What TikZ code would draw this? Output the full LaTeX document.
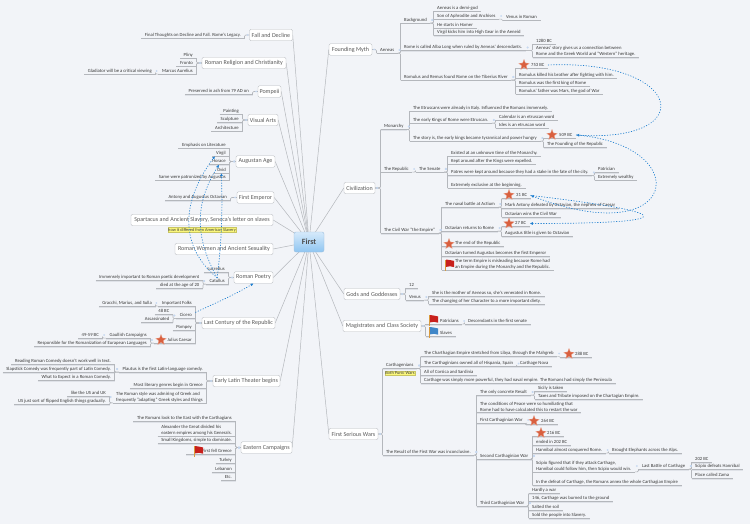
\documentclass[tikz,border=0pt]{standalone}
\usepackage{fontspec}
\setmainfont{Carlito}
\usetikzlibrary{shapes.geometric,arrows.meta}
\pgfdeclarelayer{links}
\pgfsetlayers{links,main}
\definecolor{bgc}{HTML}{F2F4F8}
\definecolor{linec}{HTML}{B4B7BC}
\definecolor{shadec}{HTML}{DFE2E8}
\definecolor{dotc}{HTML}{C6D8F0}
\definecolor{txtc}{HTML}{3A3A3A}
\definecolor{relc}{HTML}{1F7FD0}
\definecolor{notec}{HTML}{FBF77C}
\definecolor{starc}{HTML}{D9603F}
\definecolor{staredge}{HTML}{E9A48F}
\definecolor{roottop}{HTML}{D6EAFB}
\definecolor{rootbot}{HTML}{8FC5F1}
\definecolor{rootedge}{HTML}{9DBFDE}
\definecolor{flagred}{HTML}{C8201C}
\definecolor{flagblue}{HTML}{3F86C8}
\definecolor{polec}{HTML}{D99A3C}
\tikzset{
  x=1pt,y=-1pt,
  lnk/.style={draw=linec,line width=0.55pt,rounded corners=1.2pt},
  shd/.style={draw=shadec,line width=0.7pt},
  spoke/.style={draw=linec,line width=0.5pt},
  leaf/.style={font=\fontsize{4.7}{5.8}\selectfont,text=txtc,inner xsep=3.5pt,inner ysep=0.7pt,text height=3.4pt,text depth=1.1pt},
  mline/.style={align=left,text height={},text depth={}},
  topic/.style={draw=linec,fill=white,rounded corners=1.3pt,font=\fontsize{6.05}{7}\selectfont,text=black!65,inner xsep=1pt,inner ysep=0pt,minimum height=11.5pt},
  root/.style={draw=rootedge,top color=roottop,bottom color=rootbot,rounded corners=2pt,font=\bfseries\fontsize{8}{9}\selectfont,text=black!70,minimum width=30pt,minimum height=20pt,inner sep=0pt},
  note/.style={fill=notec,draw=notec!80!black,line width=0.2pt,font=\fontsize{4.4}{5}\selectfont,text=black!75,inner sep=0.6pt},
  starico/.style={star,star points=5,star point ratio=2.3,minimum size=11pt,inner sep=0pt,fill=starc,draw=staredge,line width=0.3pt},
  rel/.style={draw=relc,line width=0.7pt,dotted,line cap=round,-{Latex[length=3pt,width=3pt]}},
}
\newcommand{\ulin}[1]{\draw[shd] ([yshift=-0.7pt]#1.south west)--([yshift=-0.7pt]#1.south east);\draw[lnk] (#1.south west)--(#1.south east);}
\newcommand{\NR}[5][]{\node[leaf,anchor=west,xshift=-3.5pt,#1] (#2) at (#3,#4) {#5}; \ulin{#2}}
\newcommand{\NL}[5][]{\node[leaf,anchor=east,xshift=3.5pt,#1] (#2) at (#3,#4) {#5}; \ulin{#2}}
\newcommand{\TP}[5]{\node[topic,minimum width=#4pt] (#1) at (#2,#3) {#5};}
\newcommand{\kr}[3][south east]{\draw[lnk] (#2.#1) -| (#3.south west);\fill[dotc] ([xshift=1.8pt]#2.east) circle (1pt);}
\newcommand{\kl}[3][south west]{\draw[lnk] (#2.#1) -| (#3.south east);\fill[dotc] ([xshift=-1.8pt]#2.west) circle (1pt);}
\newcommand{\spk}[2]{\draw[spoke] (first.center)--(#1.#2);}
\newcommand{\staric}[3]{\node[starico] (#1) at (#2,#3) {};}
\newcommand{\flagic}[3]{\begin{scope}[shift={(#1,#2)}]
  \fill[polec] (-4.4,-5) rectangle (-3,6);
  \fill[#3] (-3,-5) -- (1,-4.4) -- (5,-3.6) -- (5,2.6) -- (1,1.8) -- (-3,2.4) -- cycle;
\end{scope}}
\begin{document}
\begin{tikzpicture}
\useasboundingbox (0,0) rectangle (750,524);
\begin{pgfonlayer}{links}\fill[bgc] (0,0) rectangle (750,524);\end{pgfonlayer}
\node[root] (first) at (309,242) {First};
% ---- left topics
\TP{fall}{271}{35}{43}{Fall and Decline}
\TP{relig}{244}{63}{84}{Roman Religion and Christianity}
\TP{pomp}{269.5}{91.5}{23}{Pompeii}
\TP{visual}{263}{120}{30}{Visual Arts}
\TP{aug}{255.5}{161.5}{39}{Augustan Age}
\TP{emp}{255.5}{197.5}{37}{First Emperor}
\TP{spart}{202}{220}{142}{Spartacus and Ancient Slavery, Seneca's letter on slaves}
\TP{women}{224}{249}{98}{Roman Women and Ancient Sexuality}
\TP{poet}{253.5}{277.5}{39}{Roman Poetry}
\TP{cent}{238.5}{323}{73}{Last Century of the Republic}
\TP{latin}{246.5}{381}{67}{Early Latin Theater begins}
\TP{east}{266.5}{447.5}{51}{Eastern Campaigns}
% ---- right topics
\TP{myth}{350.5}{49.5}{43}{Founding Myth}
\TP{civ}{359.5}{188}{31}{Civilization}
\TP{gods}{372}{294}{56}{Gods and Goddesses}
\TP{magi}{382}{326}{78}{Magistrates and Class Society}
\TP{wars}{353.5}{434}{49}{First Serious Wars}
\begin{pgfonlayer}{links}
\spk{fall}{east}\spk{relig}{east}\spk{pomp}{east}\spk{visual}{east}\spk{aug}{east}\spk{emp}{east}\spk{spart}{east}\spk{women}{east}\spk{poet}{east}\spk{cent}{east}\spk{latin}{east}\spk{east}{east}
\spk{myth}{west}\spk{civ}{west}\spk{gods}{west}\spk{magi}{west}\spk{wars}{west}
\end{pgfonlayer}
% Fall
\NL{fa}{241}{35}{Final Thoughts on Decline and Fall. Rome's Legacy.}
\kl[west]{fall}{fa}
% Religion
\NL{pl}{193}{55}{Pliny}\NL{fr}{193}{63}{Fronto}\NL{ma}{193}{71}{Marcus Aurelius}
\kl[west]{relig}{pl}\kl[west]{relig}{fr}\kl[west]{relig}{ma}
\NL{gl}{152}{71}{Gladiator will be a critical viewing}\kl{ma}{gl}
% Pompeii
\NL{pr}{249}{91.5}{Preserved in ash from 79 AD on}\kl[west]{pomp}{pr}
% Visual
\NL{pa}{239}{111}{Painting}\NL{sc}{239}{119.5}{Sculpture}\NL{ar}{239}{128}{Architecture}
\kl[west]{visual}{pa}\kl[west]{visual}{sc}\kl[west]{visual}{ar}
% Augustan
\NL{em}{226}{145}{Emphasis on Literature}\NL{vi}{226}{153}{Virgil}\NL{ho}{226}{161.5}{Horace}\NL{ov}{226}{170}{Ovid}\NL{sw}{226}{177}{Same were patronized by Augustus}
\kl[west]{aug}{em}\kl[west]{aug}{vi}\kl[west]{aug}{ho}\kl[west]{aug}{ov}\kl[west]{aug}{sw}
% Emperor
\NL{an}{227}{197.5}{Antony and Augustus Octavian}\kl[west]{emp}{an}
% Spartacus note
\node[note] (howit) at (202,230) {how it differed from American Slavery};
% Poetry
\NL{lu}{225}{269.5}{Lucretius}\NL{ca}{225}{281}{Catullus}
\kl[west]{poet}{lu}\kl[west]{poet}{ca}
\NL{im}{199.5}{277}{Immensely important to Roman poetic development}\NL{di}{199.5}{285}{died at the age of 20}
\kl{ca}{im}\kl{ca}{di}
% Century
\NL{fo}{192}{303}{Important Folks}\NL{ci}{192}{315.5}{Cicero}\NL{po}{192}{327}{Pompey}\NL{ju}{192}{340}{\hspace*{10pt}Julius Caesar}
\kl[west]{cent}{fo}\kl[west]{cent}{ci}\kl[west]{cent}{po}\kl[west]{cent}{ju}
\staric{jus}{161}{340}
\NL{gr}{152}{303}{Gracchi, Marius, and Sulla}\kl{fo}{gr}
\NL{ft}{169.5}{311.5}{48 BC}\NL{as}{169.5}{319.5}{Assassinated}\kl{ci}{ft}\kl{ci}{as}
\NL{ga}{147}{335}{Gaullish Campaigns}\NL{re}{147}{343}{Responsible for the Romanization of Eurapean Languages}\kl{ju}{ga}\kl{ju}{re}
\NL{nn}{99}{335}{49-59 BC}\kl{ga}{nn}
% Latin
\NL{pt}{203}{369}{Plautus is the first Latin-language comedy.}\NL{mo}{203}{385}{Most literary genres begin in Greece}
\NL[mline]{st}{203}{397}{The Roman style was admiring of Greek and\\frequently "adapting" Greek styles and things}
\kl[west]{latin}{pt}\kl[west]{latin}{mo}\kl[west]{latin}{st}
\NL{rd}{111}{361}{Reading Roman Comedy doesn't work well in text.}\NL{sl}{111}{369}{Slapstick Comedy was frequently part of Latin Comedy.}\NL{wh}{111}{377}{What to Expect in a Roman Comedy.}
\kl{pt}{rd}\kl{pt}{sl}\kl{pt}{wh}
\NL{li}{106}{393.5}{like the US and UK}\NL{us}{106}{401}{US just sort of flipped English things gradually.}
\kl{st}{li}\kl{st}{us}
% Eastern
\NL{ro}{232}{418.5}{The Romans look to the East with the Carthagians}
\NL[mline]{al}{232}{430}{Alexander the Great divided his\\eastern empires among his Generals.}
\NL{sm}{232}{440.5}{Small Kingdoms, simple to dominate.}
\NL{ff}{232}{451}{\hspace*{12pt}First fell Greece}
\NL{tu}{232}{460.5}{Turkey}\NL{le}{232}{469}{Lebanon}\NL{et}{232}{477}{Etc.}
\kl[west]{east}{ro}\kl[west]{east}{al}\kl[west]{east}{sm}\kl[west]{east}{ff}\kl[west]{east}{tu}\kl[west]{east}{le}\kl[west]{east}{et}
\flagic{198}{451}{flagred}
% Founding Myth
\NR{aen}{380}{50}{Aeneas}\kr[east]{myth}{aen}
\NR{bg}{404}{20}{Background}\NR{al2}{404}{47.5}{Rome is called Alba Long when ruled by Aeneas' descendants.}\NR{rr}{404}{77}{Romulus and Remus found Rome on the Tiberius River}
\kr{aen}{bg}\kr{aen}{al2}\kr{aen}{rr}
\NR{dg}{437}{8}{Aeneas is a demi-god}\NR{so}{437}{16}{Son of Aphrodite and Anchises}\NR{hs}{437}{25}{He starts in Homer}\NR{vk}{437}{32.5}{Virgil kicks him into High Gear in the Aeneid}
\kr{bg}{dg}\kr{bg}{so}\kr{bg}{hs}\kr{bg}{vk}
\NR{ve}{506}{17}{Venus in Roman}\kr{so}{ve}
\NR{tw}{536}{41}{1280 BC}\NR[mline]{as2}{536}{51.5}{Aeneas' story gives us a connection between\\Rome and the Greek World and "Western" heritage.}
\kr{al2}{tw}\kr{al2}{as2}
\NR{y753}{519}{65}{\hspace*{12pt}753 BC}\NR{rk}{519}{75}{Romulus killed his brother after fighting with him.}\NR{rw}{519}{83}{Romulus was the first king of Rome}\NR{rf}{519}{91}{Romulus' father was Mars, the god of War}
\kr{rr}{y753}\kr{rr}{rk}\kr{rr}{rw}\kr{rr}{rf}
\staric{s753}{524}{65}
% Civilization
\NR{mon}{384}{126.5}{Monarchy}\NR{rep}{384}{169}{The Republic}\NR{cw}{384}{230}{The Civil War "the Empire"}
\kr[east]{civ}{mon}\kr[east]{civ}{rep}\kr[east]{civ}{cw}
\NR{et1}{413}{108}{The Etruscans were already in Italy. Influenced the Romans immensely.}\NR{ek}{413}{120}{The early Kings of Rome were Etruscan.}\NR{ts}{413}{138}{The story is, the early kings became tyrannical and power hungry}
\kr{mon}{et1}\kr{mon}{ek}\kr{mon}{ts}
\NR{ce}{499}{117}{Calendar is an etruscan word}\NR{id}{499}{125}{Ides is an etruscan word}\kr{ek}{ce}\kr{ek}{id}
\NR{y509}{547}{135}{\hspace*{12pt}509 BC}\NR{fr2}{547}{144.5}{The Founding of the Republic}\kr{ts}{y509}\kr{ts}{fr2}
\staric{s509}{552}{135}
\NR{sen}{419}{169}{The Senate}\kr{rep}{sen}
\NR{ex}{451}{153}{Existed at an unknown time of the Monarchy.}\NR{ka}{451}{161}{Kept around after the Kings were expelled.}\NR{pw}{451}{172.5}{Patres were kept around because they had a stake in the fate of the city.}\NR{xe}{451}{185}{Extremely exclusive at the beginning.}
\kr{sen}{ex}\kr{sen}{ka}\kr{sen}{pw}\kr{sen}{xe}
\NR{pc}{598}{169.5}{Patrician}\NR{ew}{598}{177}{Extremely wealthy}\kr{pw}{pc}\kr{pw}{ew}
\NR{nb}{445}{204}{The naval battle at Actium}\NR{oc}{445}{228}{Octavian returns to Rome}\NR{er}{445}{243}{\hspace*{10pt}The end of the Republic}\NR{ot}{445}{253}{Octavian turned Augustus becomes the first Emperor}
\NR[mline]{te}{445}{264}{\hspace*{10pt}The term Empire is misleading because Rome had\\\hspace*{10pt}an Empire during the Monarchy and the Republic.}
\kr{cw}{nb}\kr{cw}{oc}\kr{cw}{er}\kr{cw}{ot}\kr{cw}{te}
\staric{ser}{449}{244}\flagic{449}{264.5}{flagred}
\NR{y31}{505}{195.5}{\hspace*{11pt}31 BC}\NR{mk}{505}{205}{Mark Antony defeated by Octavian, the nephew of Caesar}\NR{ow}{505}{214}{Octavian wins the Civil War}
\kr{nb}{y31}\kr{nb}{mk}\kr{nb}{ow}\staric{s31}{509}{195}
\NR{y27}{505}{223.5}{\hspace*{10pt}27 BC}\NR{ag}{505}{233.5}{Augustus title is given to Octavian}
\kr{oc}{y27}\kr{oc}{ag}\staric{s27}{509}{223.5}
% Gods
\NR{tv}{409}{285}{12}\NR{vn}{409}{297}{Venus}\kr[east]{gods}{tv}\kr[east]{gods}{vn}
\NR{sh}{432}{293}{She is the mother of Aeneas so, she's venerated in Rome.}\NR{ch}{432}{301}{The changing of her Character to a more important diety.}\kr{vn}{sh}\kr{vn}{ch}
% Magistrates
\NR{pa2}{429}{321}{\hspace*{11pt}Patricians}\NR{sv}{429}{333}{\hspace*{11pt}Slaves}\kr[east]{magi}{pa2}\kr[east]{magi}{sv}
\flagic{433}{320}{flagred}\flagic{433}{332}{flagblue}
\NR{de}{468}{321}{Descendants in the first senate}\kr{pa2}{de}
% Wars
\NR{cg}{386}{365.5}{Carthagenians}\NR{rs}{386}{452}{The Result of the First War was inconclusive.}
\kr[east]{wars}{cg}\kr[east]{wars}{rs}
\node[note] (punic) at (400,373) {Both Punic Wars};
\NR{c1}{424}{353.5}{The Charthagian Empire stretched from Libya, through the Mahgreb}\NR{c2}{424}{363.5}{The Carthaginians owned all of Hispania, Spain}\NR{c3}{424}{372}{All of Corsica and Sardinia}\NR{c4}{424}{380}{Carthage was simply more powerful, they had naval empire. The Romans had simply the Peninsula}
\kr{cg}{c1}\kr{cg}{c2}\kr{cg}{c3}\kr{cg}{c4}
\NR{y288}{564}{354}{\hspace*{11pt}288 BC}\kr{c1}{y288}\staric{s288}{569}{354}
\NR{cn}{520}{363.5}{Carthage Nova}\kr{c2}{cn}
\NR{r1}{480}{392}{The only concrete Result}\NR[mline]{r2}{480}{407}{The conditions of Peace were so humiliating that\\Rome had to have calculated this to restart the war}\NR{r3}{480}{420}{First Carthaginian War}\NR{r4}{480}{456}{Second Carthaginian War}\NR{r5}{480}{503}{Third Carthaginian War}
\kr{rs}{r1}\kr{rs}{r2}\kr{rs}{r3}\kr{rs}{r4}\kr{rs}{r5}
\NR{si}{538}{388}{Sicily is taken}\NR{tx}{538}{396}{Taxes and Tribute imposed on the Chartagian Empire.}\kr{r1}{si}\kr{r1}{tx}
\NR{y264}{529}{421}{\hspace*{12pt}264 BC}\kr{r3}{y264}\staric{s264}{534}{421}
\NR{y216}{536}{433}{\hspace*{11pt}216 BC}\NR{en}{536}{442.5}{ended in 202 BC}\NR{ha}{536}{450}{Hannibal almost conquered Rome.}\NR[mline]{sp}{536}{466}{Scipio figured that if they attack Carthage,\\Hannibal could follow him, then Scipio would win.}\NR{in}{536}{482.5}{In the defeat of Carthage, the Romans annex the whole Carthagian Empire}
\kr{r4}{y216}\kr{r4}{en}\kr{r4}{ha}\kr{r4}{sp}\kr{r4}{in}\staric{s216}{541}{433}
\NR{be}{612}{450}{Brought Elephants across the Alps.}\kr{ha}{be}
\NR{lb}{642}{466}{Last Battle of Carthage}\kr{sp}{lb}
\NR{b202}{695}{459}{202 BC}\NR{sd}{695}{466}{Scipio defeats Hannibal}\NR{pz}{695}{475}{Place called Zama}\kr{lb}{b202}\kr{lb}{sd}\kr{lb}{pz}
\NR{h1}{532}{490.5}{Hardly a war}\NR{h2}{532}{498.5}{146, Carthage was burned to the ground}\NR{h3}{532}{507}{Salted the soil}\NR{h4}{532}{515}{Sold the people into Slavery.}
\kr{r5}{h1}\kr{r5}{h2}\kr{r5}{h3}\kr{r5}{h4}
% relations
\draw[rel] (y753.east) .. controls +(135,-6) and +(125,8) .. (y509.east);
\draw[rel] (y509.east) .. controls +(120,10) and +(150,58) .. (y31.east);
\draw[rel] (y31.east) .. controls +(130,15) and +(170,0) .. (y27.east);
\draw[rel] (ca.north) .. controls +(-42,-35) and +(-30,40) .. ([xshift=-6pt]vi.south);
\draw[rel] (ca.north) .. controls +(-25,-45) and +(-22,35) .. (ho.south);
\draw[rel] (ca.north) .. controls +(5,-40) and +(1,35) .. (ov.south);
\draw[rel] (ci.north east) .. controls +(15,-7) and +(-20,12) .. (poet.south);
\end{tikzpicture}
\end{document}
